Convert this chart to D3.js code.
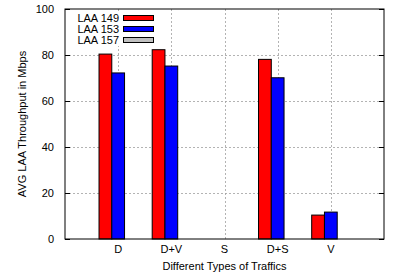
<!DOCTYPE html>
<html>
<head>
<meta charset="utf-8">
<script src="https://cdn.jsdelivr.net/npm/d3@7"></script>
<style>
  body { margin: 0; background: #fff; }
  text { font-family: "Liberation Sans", Arial, sans-serif; font-size: 11px; fill: #000; }
</style>
</head>
<body>
<div id="chart"></div>
<script>
// Data
var categories = ['D', 'D+V', 'S', 'D+S', 'V'];
var seriesNames = ['LAA 149', 'LAA 153', 'LAA 157'];
var laa149 = [80.4, 82.3, 0, 78.1, 10.4];
var laa153 = [72.2, 75.2, 0, 70.1, 11.7];
var laa157 = [0, 0, 0, 0, 0];
var yTicks = [0, 20, 40, 60, 80, 100];

var colors = ['#ff0000', '#0000ff', '#c0c0c0'];
var series = [laa149, laa153, laa157];

var w = 394, h = 280;
var margin = { left: 65, right: 10, top: 9, bottom: 41 };

var svg = d3.select('#chart').append('svg')
    .attr('width', w)
    .attr('height', h)
;

// Scales
var x = d3.scaleLinear()
    .domain([-1, categories.length])
    .range([margin.left, w - margin.right])
;
var y = d3.scaleLinear()
    .domain([0, 100])
    .range([h - margin.bottom, margin.top])
;
var unit = x(1) - x(0);
var barW = unit * 0.24;

// Grid
var grid = svg.append('g')
    .attr('stroke', '#a0a0a0')
    .attr('stroke-width', 0.8)
    .attr('stroke-dasharray', '2,2')
;
grid.selectAll('line.h')
    .data(yTicks.slice(1, -1))
    .enter()
    .append('line')
    .attr('x1', x(-1))
    .attr('x2', x(categories.length))
    .attr('y1', function (d) { return y(d) + 0.5; })
    .attr('y2', function (d) { return y(d) + 0.5; })
;
grid.selectAll('line.v')
    .data(categories)
    .enter()
    .append('line')
    .attr('x1', function (d, i) { return Math.round(x(i)) + 0.5; })
    .attr('x2', function (d, i) { return Math.round(x(i)) + 0.5; })
    .attr('y1', y(0))
    .attr('y2', y(100))
;

// Bars
series.forEach(function (vals, s) {
    svg.append('g').selectAll('rect')
        .data(vals)
        .enter()
        .append('rect')
        .attr('x', function (d, i) { return x(i) + (s - 1.5) * barW; })
        .attr('y', function (d) { return y(d); })
        .attr('width', barW)
        .attr('height', function (d) { return y(0) - y(d); })
        .attr('fill', colors[s])
        .attr('stroke', '#000')
        .attr('stroke-width', 1)
        .style('display', function (d) { return d > 0 ? null : 'none'; })
    ;
});

// Legend (white box hides the grid behind it)
var legend = svg.append('g');
legend.append('rect')
    .attr('x', 70)
    .attr('y', 11)
    .attr('width', 90)
    .attr('height', 35)
    .attr('fill', '#fff');
seriesNames.forEach(function (name, i) {
    var ly = 18 + i * 11;
    legend.append('text')
        .attr('x', 119)
        .attr('y', ly + 4)
        .attr('text-anchor', 'end')
        .text(name);
    legend.append('rect')
        .attr('x', 123.5)
        .attr('y', ly - 2.5)
        .attr('width', 30)
        .attr('height', 5)
        .attr('fill', colors[i])
        .attr('stroke', '#000')
        .attr('stroke-width', 1);
});

// Frame
svg.append('rect')
    .attr('x', x(-1))
    .attr('y', y(100))
    .attr('width', x(categories.length) - x(-1))
    .attr('height', y(0) - y(100))
    .attr('fill', 'none')
    .attr('stroke', '#000')
    .attr('stroke-width', 1)
;

// Y axis (ticks inward, both sides)
svg.append('g')
    .attr('transform', 'translate(' + x(-1) + ',0)')
    .call(d3.axisRight(y).tickValues(yTicks).tickSize(5).tickFormat(''))
    .call(function (g) { g.select('.domain').remove(); })
;
svg.append('g')
    .attr('transform', 'translate(' + x(categories.length) + ',0)')
    .call(d3.axisLeft(y).tickValues(yTicks).tickSize(5).tickFormat(''))
    .call(function (g) { g.select('.domain').remove(); })
;
svg.selectAll('.yl')
    .data(yTicks)
    .enter()
    .append('text')
    .attr('x', x(-1) - 11)
    .attr('y', function (d) { return y(d) + 4; })
    .attr('text-anchor', 'end')
    .text(function (d) { return d; })
;

// X labels
svg.selectAll('.xl')
    .data(categories)
    .enter()
    .append('text')
    .attr('x', function (d, i) { return x(i); })
    .attr('y', y(0) + 14)
    .attr('text-anchor', 'middle')
    .text(function (d) { return d; })
;

svg.append('text')
    .attr('x', x(2))
    .attr('y', 270)
    .attr('text-anchor', 'middle')
    .text('Different Types of Traffics')
;
svg.append('text')
    .attr('transform', 'translate(26,' + ((y(0) + y(100)) / 2) + ') rotate(-90)')
    .attr('text-anchor', 'middle')
    .text('AVG LAA Throughput in Mbps')
;
</script>
</body>
</html>
